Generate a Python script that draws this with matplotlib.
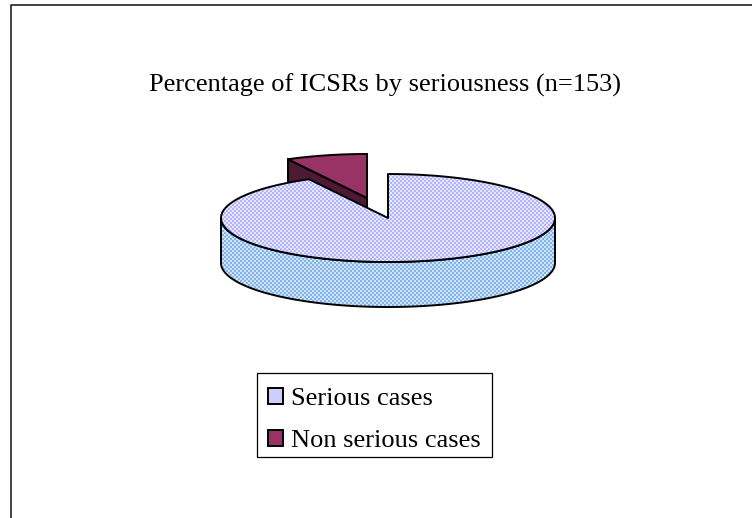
import numpy as np
import matplotlib
matplotlib.use('Agg')
import matplotlib.pyplot as plt
from matplotlib.patches import Patch, Polygon, Rectangle

categories = ['Serious cases', 'Non serious cases']
counts = [141, 12]
title = 'Percentage of ICSRs by seriousness (n=153)'

plt.rcParams['font.family'] = ['Liberation Serif', 'DejaVu Serif']

# pie layout in pixels
cx, cy = 388, 218
rx, ry = 167, 44
depth = 45
off_x, off_y = -21, -20
lw = 1.4


def rim(a0, a1, x0=cx, y0=cy):
    # angles clockwise from 12 o'clock
    t = np.radians(np.linspace(a0, a1, 200))
    return np.column_stack([x0 + rx * np.sin(t), y0 - ry * np.cos(t)])


def dither(c1, c2):
    # 2 px checker like the old office fill pattern
    yy, xx = np.mgrid[0:518, 0:752]
    mask = ((xx // 2 + yy // 2) % 2 == 0)
    img = np.zeros((518, 752, 3))
    img[mask] = matplotlib.colors.to_rgb(c1)
    img[~mask] = matplotlib.colors.to_rgb(c2)
    return img


def textured(ax, pts, c1, c2):
    poly = Polygon(pts, closed=True, facecolor='none', edgecolor='black', lw=lw, joinstyle='round', zorder=3)
    ax.add_patch(poly)
    im = ax.imshow(dither(c1, c2), extent=(0, 752, 518, 0), interpolation='nearest', zorder=2, aspect='auto')
    im.set_clip_path(poly)


fig = plt.figure(figsize=(7.52, 5.18), dpi=100)
ax = fig.add_axes([0, 0, 1, 1])
ax.set_xlim(0, 752)
ax.set_ylim(518, 0)
ax.axis('off')

# outer frame, only top and left are in the picture
ax.plot([11, 11, 752], [518, 5, 5], color='#222222', lw=1.2, zorder=1)

ax.text(385, 92, title, ha='center', va='baseline', fontsize=19, color='black')

split = 360 * counts[0] / sum(counts)

# pulled out slice goes behind the big one
wx, wy = cx + off_x, cy + off_y
edge = rim(split, split, wx, wy)[0]
side = [edge, (wx, wy), (wx, wy + depth), (edge[0], edge[1] + depth)]
ax.add_patch(Polygon(side, closed=True, facecolor='#4d1933', edgecolor='black', lw=lw, zorder=1.5))
top = np.vstack([[(wx, wy)], rim(split, 360, wx, wy)])
ax.add_patch(Polygon(top, closed=True, facecolor='#993366', edgecolor='black', lw=lw, zorder=1.6))

# big slice wall, then its top
front = rim(90, 270)
wall = np.vstack([front, front[::-1] + [0, depth]])
textured(ax, wall, '#82b4e8', '#cfe4fa')
top = np.vstack([[(cx, cy)], rim(0, split)])
top_poly = Polygon(top, closed=True, facecolor='none', edgecolor='black', lw=lw, joinstyle='round', zorder=5)
ax.add_patch(top_poly)
im = ax.imshow(dither('#b4b4fa', '#e6e6ff'), extent=(0, 752, 518, 0), interpolation='nearest', zorder=4, aspect='auto')
im.set_clip_path(top_poly)

ax.set_xlim(0, 752)
ax.set_ylim(518, 0)

# legend box drawn apart so the text can sit a bit low in it
ax.add_patch(Rectangle((257, 373), 235, 84, facecolor='white', edgecolor='black', lw=0.9, zorder=6))
handles = [Patch(facecolor='#ccccff', edgecolor='black', lw=lw),
           Patch(facecolor='#993366', edgecolor='black', lw=lw)]
leg = ax.legend(handles, categories, loc='center', bbox_to_anchor=(374.5 / 752, 1 - 420 / 518),
                fontsize=19, frameon=False,
                handlelength=0.57, handleheight=0.57, handletextpad=0.32, labelspacing=0.75,
                borderpad=0.38, borderaxespad=0)
leg.set_zorder(7)

fig.savefig('out.png', dpi=100)
